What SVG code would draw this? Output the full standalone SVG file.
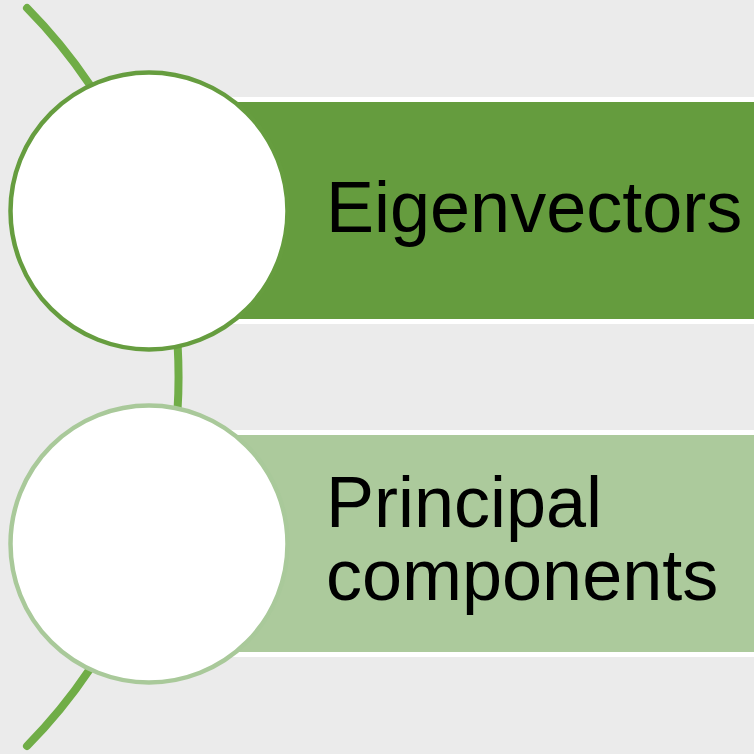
<svg xmlns="http://www.w3.org/2000/svg" width="754" height="754" viewBox="0 0 754 754">
  <style>
    .band { stroke: #ffffff; stroke-width: 5; }
    .disc { fill: #ffffff; stroke-width: 4.5; }
    .label { font-family: "Liberation Sans", Arial, sans-serif; font-size: 72px; fill: #000000; }
  </style>
  <rect width="754" height="754" fill="#ebebeb"/>

  <!-- curved spine linking the two items -->
  <g id="connectors">
    <path d="M 27 8 A 525 525 0 0 1 27 746" fill="none" stroke="#70ad47" stroke-width="8" stroke-linecap="round"/>
  </g>

  <g id="item-eigenvectors">
    <rect class="band" x="149" y="99.5" width="620" height="222" fill="#659c3e"/>
    <circle class="disc" cx="149" cy="211" r="138.5" stroke="#669d3f"/>
    <text class="label" x="326" y="232">Eigenvectors</text>
  </g>

  <g id="item-principal-components">
    <rect class="band" x="149" y="432.5" width="620" height="222" fill="#acca9c"/>
    <circle class="disc" cx="149" cy="544" r="138.5" stroke="#a9c99a"/>
    <text class="label" x="326" y="527">Principal</text>
    <text class="label" x="326" y="600">components</text>
  </g>
</svg>
